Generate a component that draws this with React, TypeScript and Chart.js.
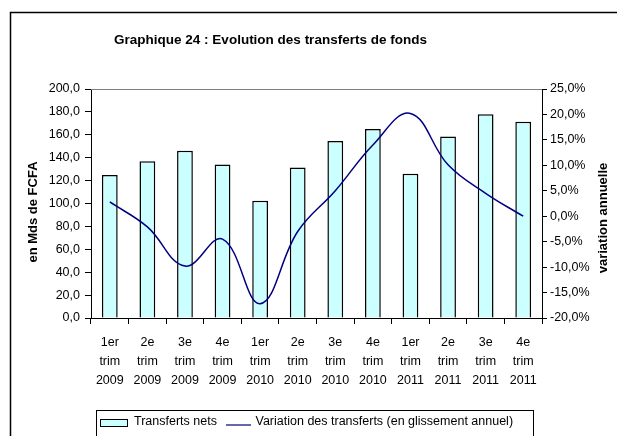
import React, { useEffect, useRef } from "react";
import { Chart, registerables } from "chart.js";

Chart.register(...registerables);

const FONT = '"Liberation Sans", Arial, Helvetica, sans-serif';

const TITLE = "Graphique 24 : Evolution des transferts de fonds";
const LEFT_AXIS_TITLE = "en Mds de FCFA";
const RIGHT_AXIS_TITLE = "variation annuelle";
const BAR_LABEL = "Transferts nets";
const LINE_LABEL = "Variation des transferts (en glissement annuel)";

const categories: string[][] = [
  ["1er", "trim", "2009"],
  ["2e", "trim", "2009"],
  ["3e", "trim", "2009"],
  ["4e", "trim", "2009"],
  ["1er", "trim", "2010"],
  ["2e", "trim", "2010"],
  ["3e", "trim", "2010"],
  ["4e", "trim", "2010"],
  ["1er", "trim", "2011"],
  ["2e", "trim", "2011"],
  ["3e", "trim", "2011"],
  ["4e", "trim", "2011"],
];

const transfertsNets = [125, 137, 146, 134, 102.5, 131.5, 154.5, 165, 126, 158.5, 178, 171.5];
const variation = [2.8, -2.1, -9.8, -4.5, -17.2, -3.0, 5.0, 14.0, 20.2, 10.1, 4.5, 0.0];

const leftMin = 0;
const leftMax = 200;
const leftStep = 20;
const rightMin = -20;
const rightMax = 25;
const rightStep = 5;

const fmtLeft = (v: number) => v.toFixed(1).replace(".", ",");
const fmtRight = (v: number) => v.toFixed(1).replace(".", ",") + "%";

const decor = {
  id: "decor",
  beforeDraw(chart: any) {
    const { ctx, width, height } = chart;
    ctx.save();
    ctx.fillStyle = "#ffffff";
    ctx.fillRect(0, 0, width, height);
    ctx.restore();
  },
  afterDraw(chart: any) {
    const { ctx, chartArea: ca } = chart;
    ctx.save();
    // top border of plot area
    ctx.strokeStyle = "#808080";
    ctx.lineWidth = 1;
    ctx.beginPath();
    ctx.moveTo(ca.left, Math.round(ca.top) + 0.5);
    ctx.lineTo(ca.right, Math.round(ca.top) + 0.5);
    ctx.stroke();

    // outer frame
    ctx.strokeStyle = "#000000";
    ctx.lineWidth = 1.5;
    ctx.strokeRect(10.5, 12.5, 800, 600);

    // title
    ctx.fillStyle = "#000000";
    ctx.font = `bold 13.5px ${FONT}`;
    ctx.textAlign = "center";
    ctx.textBaseline = "middle";
    ctx.fillText(TITLE, 270.5, 40);

    // axis titles
    ctx.font = `bold 13px ${FONT}`;
    ctx.save();
    ctx.translate(33, 212);
    ctx.rotate(-Math.PI / 2);
    ctx.fillText(LEFT_AXIS_TITLE, 0, 0);
    ctx.restore();
    ctx.save();
    ctx.translate(603, 218);
    ctx.rotate(-Math.PI / 2);
    ctx.fillText(RIGHT_AXIS_TITLE, 0, 0);
    ctx.restore();

    // legend
    ctx.strokeStyle = "#000000";
    ctx.lineWidth = 1;
    ctx.strokeRect(96.5, 410.5, 437, 60);
    ctx.fillStyle = "#CCFFFF";
    ctx.fillRect(100.5, 419.5, 27, 7);
    ctx.strokeRect(100.5, 419.5, 27, 7);
    ctx.fillStyle = "#000000";
    ctx.font = `12.5px ${FONT}`;
    ctx.textAlign = "left";
    ctx.textBaseline = "middle";
    ctx.fillText(BAR_LABEL, 134, 422);
    ctx.strokeStyle = "#000080";
    ctx.lineWidth = 1.2;
    ctx.beginPath();
    ctx.moveTo(226, 425);
    ctx.lineTo(251, 425);
    ctx.stroke();
    ctx.fillText(LINE_LABEL, 255.5, 422);
    ctx.restore();
  },
};

export default function App() {
  const ref = useRef<HTMLCanvasElement | null>(null);

  useEffect(() => {
    if (!ref.current) return;
    const tickFont = { family: FONT, size: 12.5 };
    const chart = new Chart(ref.current, {
      type: "bar",
      data: {
        labels: categories as any,
        datasets: [
          {
            type: "line",
            label: LINE_LABEL,
            data: variation,
            yAxisID: "y1",
            borderColor: "#000080",
            borderWidth: 1.5,
            pointRadius: 0,
            tension: 0.4,
            fill: false,
            order: 0,
          } as any,
          {
            type: "bar",
            label: BAR_LABEL,
            data: transfertsNets,
            yAxisID: "y",
            backgroundColor: "#CCFFFF",
            borderColor: "#000000",
            borderWidth: 1.5,
            categoryPercentage: 1,
            barPercentage: 0.42,
            order: 1,
          },
        ],
      },
      options: {
        responsive: false,
        animation: false,
        devicePixelRatio: 1,
        layout: { padding: { top: 89, bottom: 0, left: 0, right: 0 } },
        plugins: {
          legend: { display: false },
          title: { display: false },
          tooltip: { enabled: false },
        },
        scales: {
          x: {
            type: "category",
            offset: true,
            grid: {
              offset: true,
              drawOnChartArea: false,
              drawTicks: true,
              tickLength: 6,
              color: "#000000",
            },
            border: { display: true, color: "#000000", width: 1 },
            ticks: {
              font: { ...tickFont, lineHeight: 19 / 12.5 },
              color: "#000000",
              padding: 9.5,
              maxRotation: 0,
              minRotation: 0,
              autoSkip: false,
            },
            afterFit(scale: any) {
              scale.height = 118;
            },
          },
          y: {
            position: "left",
            min: leftMin,
            max: leftMax,
            grid: {
              drawOnChartArea: false,
              drawTicks: true,
              tickLength: 6,
              color: "#000000",
            },
            border: { display: true, color: "#000000", width: 1 },
            ticks: {
              stepSize: leftStep,
              font: tickFont,
              color: "#000000",
              padding: 5,
              callback: (v: any) => fmtLeft(Number(v)),
            },
            afterFit(scale: any) {
              scale.width = 91;
            },
          },
          y1: {
            position: "right",
            min: rightMin,
            max: rightMax,
            grid: {
              drawOnChartArea: false,
              drawTicks: true,
              tickLength: 5,
              color: "#000000",
            },
            border: { display: true, color: "#000000", width: 1 },
            ticks: {
              stepSize: rightStep,
              font: tickFont,
              color: "#000000",
              padding: 3,
              callback: (v: any) => fmtRight(Number(v)),
            },
            afterFit(scale: any) {
              scale.width = 75;
            },
          },
        },
      },
      plugins: [decor],
    });
    return () => chart.destroy();
  }, []);

  return (
    <div style={{ position: "absolute", left: 0, top: 0, width: 617, height: 436, overflow: "hidden" }}>
      <canvas ref={ref} width={617} height={436} style={{ display: "block" }} />
    </div>
  );
}
